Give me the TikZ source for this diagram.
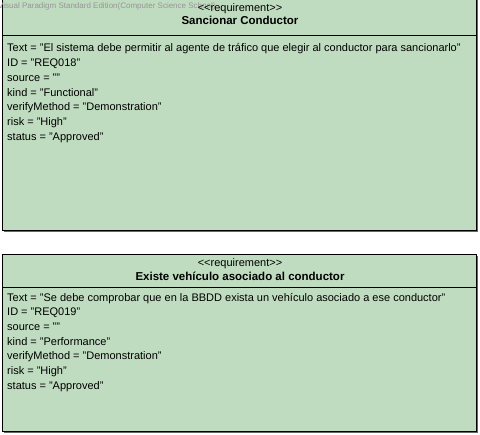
\documentclass[tikz,border=0pt]{standalone}
\usepackage{fontspec}
\setmainfont{Liberation Sans}
\definecolor{reqfill}{RGB}{192,220,192}
\definecolor{wmgray}{RGB}{150,150,150}
\begin{document}
\begin{tikzpicture}[x=1bp,y=-1bp,
  reqbox/.style={draw=black, line width=0.9bp, fill=reqfill},
  attr/.style={anchor=base west, inner sep=0pt, font=\fontsize{11bp}{13bp}\selectfont},
  stereo/.style={anchor=base, inner sep=0pt, font=\fontsize{11bp}{13bp}\selectfont},
  rname/.style={anchor=base, inner sep=0pt, font=\fontsize{11.5bp}{13bp}\selectfont\bfseries},
  wmark/.style={anchor=base west, inner sep=0pt, text=wmgray, font=\fontsize{8bp}{9bp}\selectfont}]
\useasboundingbox (0,0) rectangle (480,435);
% box 1
\fill[black!60] (4,0) rectangle (478,232);
\draw[reqbox] (2,-1) rectangle (476,230);
\draw[line width=0.9bp] (2,35) -- (476,35);
\node[wmark] (wm) at (-2,8.5) {Visual Paradigm Standard Edition(Computer Science School)};
\node[stereo] (s1) at (240,11.5) {{<}{<}requirement{>}{>}};
\node[rname] (n1) at (240,25) {Sancionar Conductor};
\node[attr] (a1) at (7,52) {Text = "El sistema debe permitir al agente de tráfico que elegir al conductor para sancionarlo"};
\node[attr] (a2) at (7,66.7) {ID = "REQ018"};
\node[attr] (a3) at (7,81.4) {source = ""};
\node[attr] (a4) at (7,96.1) {kind = "Functional"};
\node[attr] (a5) at (7,110.8) {verifyMethod = "Demonstration"};
\node[attr] (a6) at (7,125.5) {risk = "High"};
\node[attr] (a7) at (7,140.2) {status = "Approved"};
% box 2
\fill[black!60] (4,256) rectangle (478,433);
\draw[reqbox] (2,254) rectangle (476,431);
\draw[line width=0.9bp] (2,287) -- (476,287);
\node[stereo] (s2) at (240,266) {{<}{<}requirement{>}{>}};
\node[rname] (n2) at (240,280.5) {Existe vehículo asociado al conductor};
\node[attr] (b1) at (7,301) {Text = "Se debe comprobar que en la BBDD exista un vehículo asociado a ese conductor"};
\node[attr] (b2) at (7,315.7) {ID = "REQ019"};
\node[attr] (b3) at (7,330.4) {source = ""};
\node[attr] (b4) at (7,345.1) {kind = "Performance"};
\node[attr] (b5) at (7,359.8) {verifyMethod = "Demonstration"};
\node[attr] (b6) at (7,374.5) {risk = "High"};
\node[attr] (b7) at (7,389.2) {status = "Approved"};
\end{tikzpicture}
\end{document}
